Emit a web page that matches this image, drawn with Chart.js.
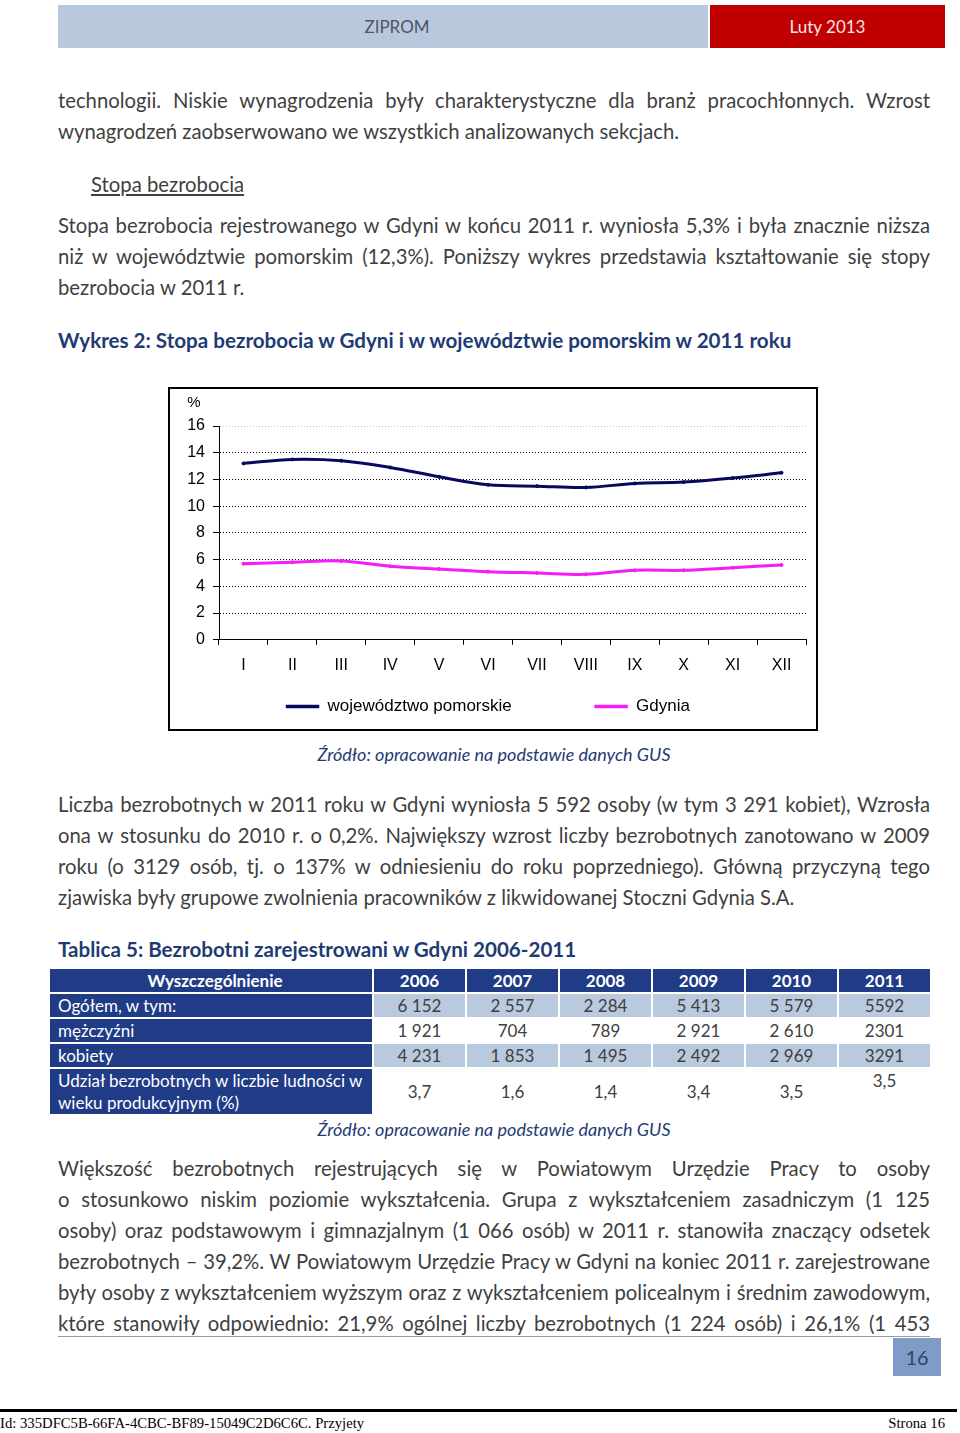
<!DOCTYPE html>
<html lang="pl">
<head>
<meta charset="utf-8">
<title>Stopa bezrobocia w Gdyni 2011</title>
<script src="https://cdn.jsdelivr.net/npm/chart.js@4"></script>
<style>
  body { margin: 0; width: 960px; height: 1433px; position: relative; background: #fff; font-family: Lato, "Open Sans", sans-serif; color: #3f3f3f; overflow: hidden; }
  .abs { position: absolute; }
  .para { left: 58px; width: 872px; font-size: 20.3px; line-height: 31px; }
  .para span { display: block; white-space: nowrap; }
  .para span.j { text-align: justify; text-align-last: justify; }
  .head-left { left: 58px; top: 5px; width: 650px; height: 43px; background: #b9c8dc; color: #4d5566; font-size: 17px; line-height: 43px; text-align: center; box-sizing: border-box; padding-left: 28px; }
  .head-right { left: 710px; top: 5px; width: 235px; height: 43px; background: #c00000; color: #f6e6e6; font-size: 17px; line-height: 43px; text-align: center; }
  .caption { font-weight: bold; color: #1f3b73; font-size: 20.6px; line-height: 31px; left: 58px; white-space: nowrap; }
  .source { left: 0; width: 988px; text-align: center; font-style: italic; color: #1f3b73; font-size: 18px; line-height: 31px; }
  .chart-box { left: 168px; top: 387px; width: 650px; height: 344px; border: 2px solid #000; box-sizing: border-box; }
  .chart-box canvas { position: absolute; left: 0; top: 0; }
  table { position: absolute; left: 48px; top: 967px; border-collapse: separate; border-spacing: 2px; font-size: 17px; }
  td { padding: 0; height: 23px; line-height: 23px; text-align: center; color: #404040; width: 91px; }
  td.lab { width: 314px; text-align: left; padding-left: 8px; background: #203c86; color: #fff; }
  tr.hd td { background: #203c86; color: #fff; font-weight: bold; }
  tr.hd td.lab { text-align: center; }
  tr.sh td { background: #b9c9de; }
  tr.sh td.lab { background: #203c86; }
  tr.tall td { height: 44px; line-height: 22px; }
  tr.tall td.top { vertical-align: top; padding-top: 1px; }
  .rule { left: 58px; top: 1336px; width: 872px; height: 1px; background: #9a9a9a; }
  .pageno { left: 893px; top: 1338px; width: 48px; height: 38px; background: #7f9cc6; color: #2f4466; font-size: 20px; line-height: 38px; text-align: center; }
  .foot-line { left: 0; top: 1409px; width: 957px; height: 3px; background: #000; }
  .foot { top: 1414px; font-family: "Liberation Serif", serif; font-size: 14.7px; line-height: 18px; color: #000; }
</style>
</head>
<body>
<div class="abs head-left">ZIPROM</div>
<div class="abs head-right">Luty 2013</div>

<div class="abs para" style="top:85px">
  <span class="j">technologii. Niskie wynagrodzenia były charakterystyczne dla branż pracochłonnych. Wzrost</span>
  <span>wynagrodzeń zaobserwowano we wszystkich analizowanych sekcjach.</span>
</div>

<div class="abs" style="left:91px; top:169px; font-size:20.3px; line-height:31px; text-decoration:underline;">Stopa bezrobocia</div>

<div class="abs para" style="top:210px">
  <span class="j">Stopa bezrobocia rejestrowanego w Gdyni w końcu 2011 r. wyniosła 5,3% i była znacznie niższa</span>
  <span class="j">niż w województwie pomorskim (12,3%). Poniższy wykres przedstawia kształtowanie się stopy</span>
  <span>bezrobocia w 2011 r.</span>
</div>

<div class="abs caption" style="top:325px">Wykres 2: Stopa bezrobocia w Gdyni i w województwie pomorskim w 2011 roku</div>

<div class="abs chart-box">
  <canvas id="unemploymentChart" width="646" height="340"></canvas>
</div>

<div class="abs source" style="top:738.5px">Źródło: opracowanie na podstawie danych GUS</div>

<div class="abs para" style="top:789px">
  <span class="j">Liczba bezrobotnych w 2011 roku w Gdyni wyniosła 5&nbsp;592 osoby (w tym 3&nbsp;291 kobiet), Wzrosła</span>
  <span class="j">ona w stosunku do 2010 r. o 0,2%. Największy wzrost liczby bezrobotnych zanotowano w 2009</span>
  <span class="j">roku (o 3129 osób, tj. o 137% w odniesieniu do roku poprzedniego). Główną przyczyną tego</span>
  <span>zjawiska były grupowe zwolnienia pracowników z likwidowanej Stoczni Gdynia S.A.</span>
</div>

<div class="abs caption" style="top:934px">Tablica 5: Bezrobotni zarejestrowani w Gdyni 2006-2011</div>

<table>
  <tr class="hd"><td class="lab">Wyszczególnienie</td><td>2006</td><td>2007</td><td>2008</td><td>2009</td><td>2010</td><td>2011</td></tr>
  <tr class="sh"><td class="lab">Ogółem, w tym:</td><td>6&nbsp;152</td><td>2&nbsp;557</td><td>2&nbsp;284</td><td>5&nbsp;413</td><td>5&nbsp;579</td><td>5592</td></tr>
  <tr><td class="lab">mężczyźni</td><td>1&nbsp;921</td><td>704</td><td>789</td><td>2&nbsp;921</td><td>2&nbsp;610</td><td>2301</td></tr>
  <tr class="sh"><td class="lab">kobiety</td><td>4&nbsp;231</td><td>1&nbsp;853</td><td>1&nbsp;495</td><td>2&nbsp;492</td><td>2&nbsp;969</td><td>3291</td></tr>
  <tr class="tall"><td class="lab">Udział bezrobotnych w liczbie ludności w<br>wieku produkcyjnym (%)</td><td>3,7</td><td>1,6</td><td>1,4</td><td>3,4</td><td>3,5</td><td class="top">3,5</td></tr>
</table>

<div class="abs source" style="top:1113.5px">Źródło: opracowanie na podstawie danych GUS</div>

<div class="abs para" style="top:1153px">
  <span class="j">Większość bezrobotnych rejestrujących się w Powiatowym Urzędzie Pracy to osoby</span>
  <span class="j">o stosunkowo niskim poziomie wykształcenia. Grupa z wykształceniem zasadniczym (1&nbsp;125</span>
  <span class="j">osoby) oraz podstawowym i gimnazjalnym (1&nbsp;066 osób) w 2011 r. stanowiła znaczący odsetek</span>
  <span class="j">bezrobotnych – 39,2%. W Powiatowym Urzędzie Pracy w Gdyni na koniec 2011 r. zarejestrowane</span>
  <span class="j">były osoby z wykształceniem wyższym oraz z wykształceniem policealnym i średnim zawodowym,</span>
  <span class="j">które stanowiły odpowiednio: 21,9% ogólnej liczby bezrobotnych (1&nbsp;224 osób) i 26,1% (1&nbsp;453</span>
</div>

<div class="abs rule"></div>
<div class="abs pageno">16</div>
<div class="abs foot-line"></div>
<div class="abs foot" style="left:0">Id: 335DFC5B-66FA-4CBC-BF89-15049C2D6C6C. Przyjety</div>
<div class="abs foot" style="right:15px">Strona 16</div>

<script>
const MONTHS = ["I", "II", "III", "IV", "V", "VI", "VII", "VIII", "IX", "X", "XI", "XII"];
const POMORSKIE = [13.2, 13.5, 13.4, 12.9, 12.2, 11.6, 11.5, 11.4, 11.7, 11.8, 12.1, 12.5];
const GDYNIA = [5.7, 5.8, 5.9, 5.5, 5.3, 5.1, 5.0, 4.9, 5.2, 5.2, 5.4, 5.6];
const Y_MIN = 0;
const Y_MAX = 16;
const Y_STEP = 2;

const AXIS_FONT = { family: '"Liberation Sans", Arial, sans-serif', size: 16 };
const LEGEND_FONT = { family: '"Liberation Sans", Arial, sans-serif', size: 17 };

// "%" unit drawn above the value axis, like the original Excel chart
const percentLabel = {
  id: "percentLabel",
  afterDraw(chart) {
    const { ctx, chartArea } = chart;
    ctx.save();
    ctx.font = '15px "Liberation Sans", Arial, sans-serif';
    ctx.fillStyle = "#000";
    ctx.textAlign = "center";
    ctx.textBaseline = "middle";
    ctx.fillText("%", chartArea.left - 25, chartArea.top - 23);
    ctx.restore();
  },
};

function seriesStyle(color) {
  return {
    borderColor: color,
    backgroundColor: color,
    borderWidth: 3,
    pointRadius: 1.5,
    pointBackgroundColor: color,
    pointBorderColor: color,
    pointBorderWidth: 1,
    tension: 0.35,
    fill: false,
  };
}

new Chart(document.getElementById("unemploymentChart"), {
  type: "line",
  data: {
    labels: MONTHS,
    datasets: [
      { label: "województwo pomorskie", data: POMORSKIE, ...seriesStyle("#08085f") },
      { label: "Gdynia", data: GDYNIA, ...seriesStyle("#f51cf5") },
    ],
  },
  options: {
    responsive: false,
    animation: false,
    layout: { padding: { top: 37, right: 10, bottom: 4, left: 0 } },
    plugins: {
      tooltip: { enabled: false },
      legend: {
        position: "bottom",
        labels: {
          color: "#000",
          font: LEGEND_FONT,
          boxWidth: 33,
          boxHeight: 3,
          padding: 12,
          generateLabels(chart) {
            const items = Chart.defaults.plugins.legend.labels.generateLabels(chart);
            items.forEach((item) => { item.lineWidth = 0.5; });
            // wider gap between the two entries, as in the source
            items[0].text += "\u00a0".repeat(15);
            return items;
          },
        },
      },
    },
    scales: {
      x: {
        offset: true,
        grid: { drawOnChartArea: false, offset: true, color: "#000", tickLength: 5, tickColor: "#000" },
        border: { color: "#000", width: 1 },
        ticks: { color: "#000", font: AXIS_FONT, padding: 11, maxRotation: 0, autoSkip: false },
      },
      y: {
        min: Y_MIN,
        max: Y_MAX,
        afterFit(scale) { scale.width = 49; },
        ticks: { stepSize: Y_STEP, color: "#000", font: AXIS_FONT, padding: 8 },
        grid: {
          color: (ctx) => (ctx.tick && ctx.tick.value === Y_MAX ? "#c8c8c8" : "#000"),
          lineWidth: 1,
          tickLength: 6,
          tickColor: "#000",
          tickBorderDash: [],
        },
        border: { color: "#000", width: 1, dash: [1, 2] },
      },
    },
  },
  plugins: [percentLabel],
});
</script>
</body>
</html>
